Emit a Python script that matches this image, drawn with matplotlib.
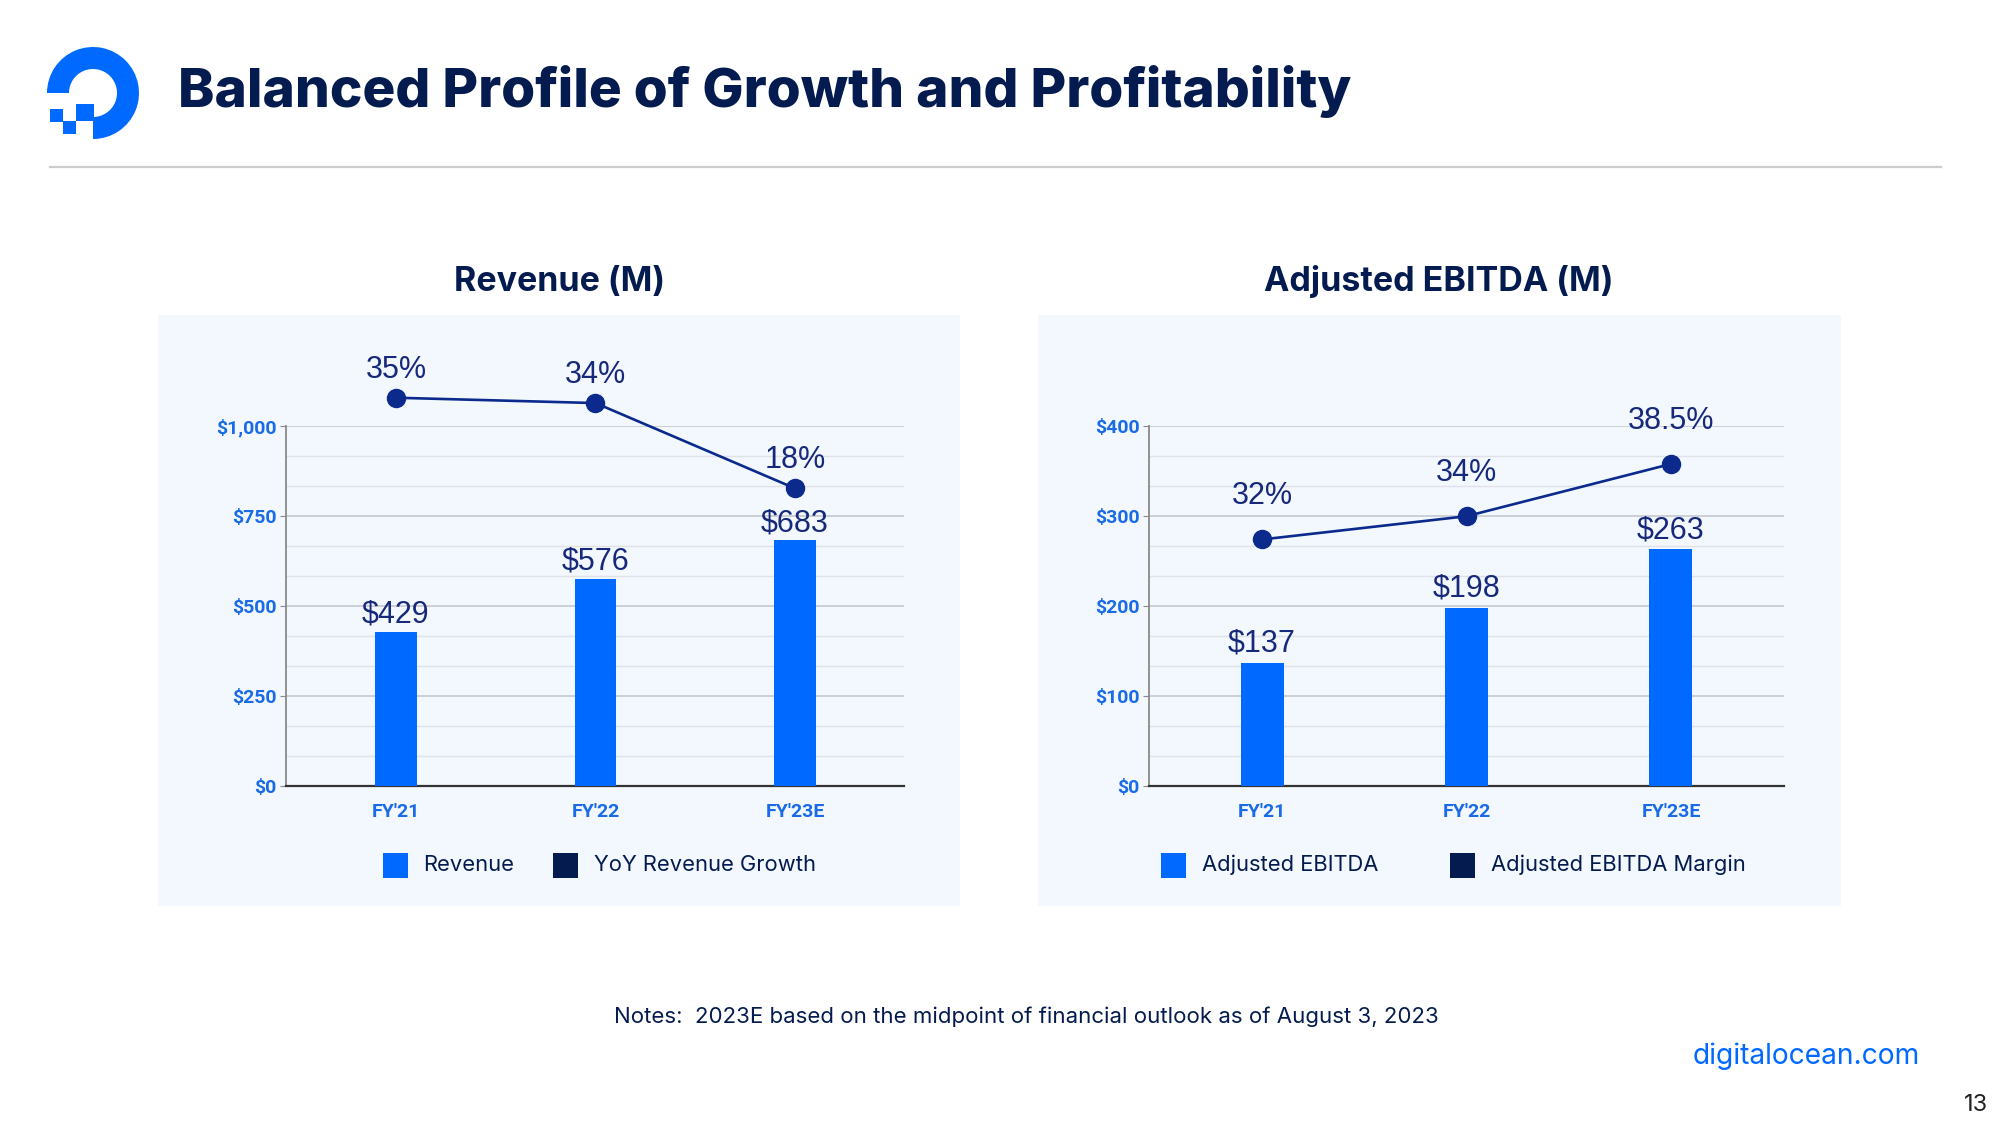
import numpy as np
import matplotlib
matplotlib.use("Agg")
import matplotlib.pyplot as plt
from matplotlib.patches import Rectangle, Wedge
from matplotlib.ticker import FuncFormatter, MultipleLocator

# datos de las dos graficas
years = ["FY'21", "FY'22", "FY'23E"]
revenue = [429, 576, 683]
revenue_growth = [35, 34, 18]
growth_labels = ["35%", "34%", "18%"]
ebitda = [137, 198, 263]
ebitda_margin = [32, 34, 38.5]
margin_labels = ["32%", "34%", "38.5%"]

# colores
BLUE = "#0069ff"
NAVY = "#031b4e"
LINE_NAVY = "#0b2a8c"
LABEL_NAVY = "#16297a"
TICK_BLUE = "#1a6be8"
PANEL = "#f3f8fe"

W, H = 2000, 1125
fig = plt.figure(figsize=(20, 11.25), dpi=100)
fig.patch.set_facecolor("white")

# eje de fondo en pixeles (y hacia abajo) para paneles, logo y textos
bg = fig.add_axes([0, 0, 1, 1], zorder=0)
bg.set_xlim(0, W)
bg.set_ylim(H, 0)
bg.axis("off")

# paneles claros detras de cada grafica
bg.add_patch(Rectangle((158, 315), 802, 591, color=PANEL, lw=0))
bg.add_patch(Rectangle((1038, 315), 803, 591, color=PANEL, lw=0))

# logo
bg.add_patch(Wedge((93, 93), 46, 180, 90, width=22, color=BLUE, lw=0))
bg.add_patch(Rectangle((76, 103.5), 17.5, 17.5, color=BLUE, lw=0))
bg.add_patch(Rectangle((63, 121), 13, 13, color=BLUE, lw=0))
bg.add_patch(Rectangle((50, 109), 13, 13, color=BLUE, lw=0))

# titulo y linea
bg.text(178, 92, "Balanced Profile of Growth and Profitability", fontsize=39.5,
        fontfamily="Inter", fontweight="heavy", color=NAVY, va="center", ha="left")
bg.plot([50, 1941], [167, 167], color="#cccccc", lw=1.6)

bg.text(560, 282, "Revenue (M)", fontsize=24.5, fontfamily="Inter", fontweight="bold",
        color=NAVY, ha="center", va="center")
bg.text(1439, 282, "Adjusted EBITDA (M)", fontsize=24.5, fontfamily="Inter", fontweight="bold",
        color=NAVY, ha="center", va="center")

# notas y pie
bg.text(1026, 1017, "Notes:  2023E based on the midpoint of financial outlook as of August 3, 2023",
        fontsize=16, fontfamily="Inter", color=NAVY, ha="center", va="center")
bg.text(1920, 1056, "digitalocean.com", fontsize=20.3, fontfamily="Inter", color=BLUE,
        ha="right", va="center")
bg.text(1988, 1105, "13", fontsize=17, fontfamily="Inter", color="#222222", ha="right", va="center")


def legend_item(x_sq, x_txt, color, text):
    bg.add_patch(Rectangle((x_sq, 852.5), 25, 25, color=color, lw=0))
    bg.text(x_txt, 865, text, fontsize=15.8, fontfamily="Inter", color=NAVY,
            ha="left", va="center")


legend_item(383, 423, BLUE, "Revenue")
legend_item(553, 594, NAVY, "YoY Revenue Growth")
legend_item(1161, 1202, BLUE, "Adjusted EBITDA")
legend_item(1450, 1491, NAVY, "Adjusted EBITDA Margin")


def grafica(rect, bars, ymax, step, xlim, pct, pct_lim, pct_labels, off_bar, off_pct):
    ax = fig.add_axes(rect, zorder=2)
    ax.patch.set_alpha(0)
    x = np.arange(len(years))
    ax.bar(x, bars, width=0.21, color=BLUE, zorder=3)
    ax.set_xlim(*xlim)
    ax.set_ylim(0, ymax)
    ax.yaxis.set_major_locator(MultipleLocator(step))
    ax.yaxis.set_minor_locator(MultipleLocator(step / 3))
    ax.yaxis.set_major_formatter(FuncFormatter(lambda v, p: f"${v:,.0f}"))
    ax.grid(axis="y", which="major", color="#c9cdd3", lw=1.3, zorder=0)
    ax.grid(axis="y", which="minor", color="#dfe3e8", lw=1.0, zorder=0)
    ax.set_axisbelow(True)
    for s in ["top", "right"]:
        ax.spines[s].set_visible(False)
    ax.spines["left"].set_color("#8a8a8a")
    ax.spines["left"].set_linewidth(1.3)
    ax.spines["bottom"].set_color("#333333")
    ax.spines["bottom"].set_linewidth(1.6)
    ax.set_xticks(x)
    ax.set_xticklabels(years)
    ax.tick_params(axis="y", which="major", length=4, color="#8a8a8a", pad=3)
    ax.tick_params(axis="y", which="minor", length=0)
    ax.tick_params(axis="x", length=0, pad=12)
    for lab in ax.get_xticklabels() + ax.get_yticklabels():
        lab.set_fontfamily("Roboto")
        lab.set_fontweight("bold")
        lab.set_fontsize(14)
        lab.set_color(TICK_BLUE)
    # etiquetas de las barras
    for xi, v in zip(x, bars):
        ax.annotate(f"${v}", (xi, v), xytext=(0, off_bar), textcoords="offset pixels",
                    ha="center", va="center", fontsize=22, fontfamily="Liberation Sans",
                    color=LABEL_NAVY, zorder=5)
    # linea de porcentaje en eje secundario
    ax2 = ax.twinx()
    ax2.set_ylim(*pct_lim)
    ax2.axis("off")
    ax2.plot(x, pct, color=LINE_NAVY, lw=1.9, marker="o", markersize=13, clip_on=False, zorder=4)
    for xi, v, t in zip(x, pct, pct_labels):
        ax2.annotate(t, (xi, v), xytext=(0, off_pct), textcoords="offset pixels",
                     ha="center", va="center", fontsize=22, fontfamily="Liberation Sans",
                     color=LABEL_NAVY, annotation_clip=False)
    return ax


grafica([286 / W, 1 - 786 / H, 618 / W, 360 / H], revenue, 1000, 250, (-0.551, 2.546),
        revenue_growth, (-37.8, 29.7), growth_labels, 17, 28)
grafica([1149 / W, 1 - 786 / H, 635 / W, 360 / H], ebitda, 400, 100, (-0.553, 2.553),
        ebitda_margin, (10.77, 41.77), margin_labels, 19, 43)

fig.savefig("out.png", dpi=100)
